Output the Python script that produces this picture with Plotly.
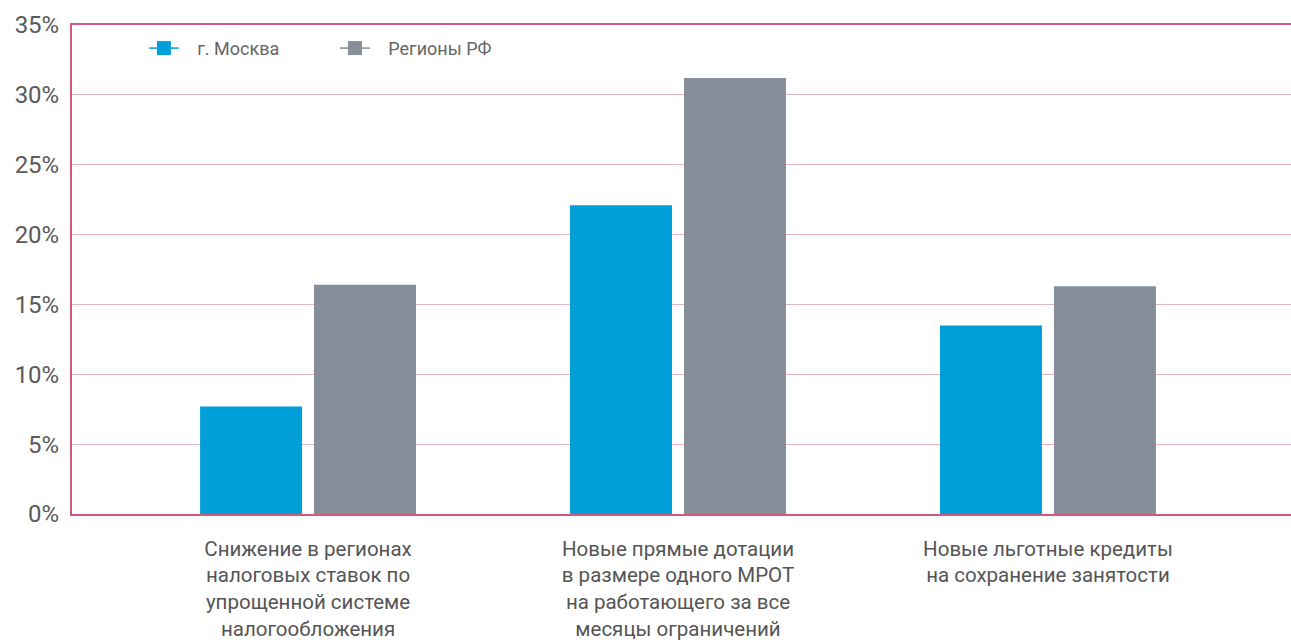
import plotly.graph_objects as go

categories = [
    "Снижение в регионах<br>налоговых ставок по<br>упрощенной системе<br>налогообложения",
    "Новые прямые дотации<br>в размере одного МРОТ<br>на работающего за все<br>месяцы ограничений",
    "Новые льготные кредиты<br>на сохранение занятости",
]
moscow = [7.7, 22.1, 13.5]
regions = [16.4, 31.2, 16.3]
series_names = ["г. Москва", "Регионы РФ"]
colors = ["#009fd9", "#858e99"]
y_ticks = [0, 5, 10, 15, 20, 25, 30, 35]

fig = go.Figure()
for name, vals, col in zip(series_names, [moscow, regions], colors):
    fig.add_trace(go.Bar(x=list(range(len(categories))), y=vals, name=name,
                         marker=dict(color=col, line=dict(width=0)), showlegend=False))
    fig.add_trace(go.Scatter(x=[None], y=[None], name="\u00a0\u00a0\u00a0" + name,
                             mode="lines+markers",
                             line=dict(color=col, width=1.5),
                             marker=dict(symbol="square", size=14, color=col)))

fig.update_layout(
    width=1291, height=640,
    margin=dict(l=72, r=0, t=25, b=126),
    paper_bgcolor="white", plot_bgcolor="white",
    barmode="group", bargap=0.384, bargroupgap=0.105,
    font=dict(family="Roboto", color="#555555"),
    legend=dict(orientation="h", x=0.059, y=0.99, xanchor="left", yanchor="top",
                font=dict(size=18, color="#666666"),
                entrywidth=146, entrywidthmode="pixels",
                bgcolor="rgba(0,0,0,0)"),
    xaxis=dict(range=[-0.638, 2.657], tickmode="array",
               tickvals=list(range(len(categories))), ticktext=categories,
               tickfont=dict(size=20.5, color="#555555"),
               showline=True, linecolor="#d4587c", linewidth=2, mirror=True,
               showgrid=False, ticks="outside", ticklen=15, tickcolor="rgba(0,0,0,0)",
               zeroline=False),
    yaxis=dict(range=[0, 35], tickvals=y_ticks,
               ticktext=[f"{v}%" for v in y_ticks],
               tickfont=dict(size=24, color="#5a5a5a"),
               showline=True, linecolor="#d4587c", linewidth=2,
               showgrid=True, gridcolor="#e3b3c0", gridwidth=1,
               zeroline=False, ticks="outside", ticklen=6, tickcolor="rgba(0,0,0,0)"),
)
fig.write_html("out.html", config={"displayModeBar": False},
               post_script="document.body.style.margin='0';document.body.style.overflow='hidden';")
